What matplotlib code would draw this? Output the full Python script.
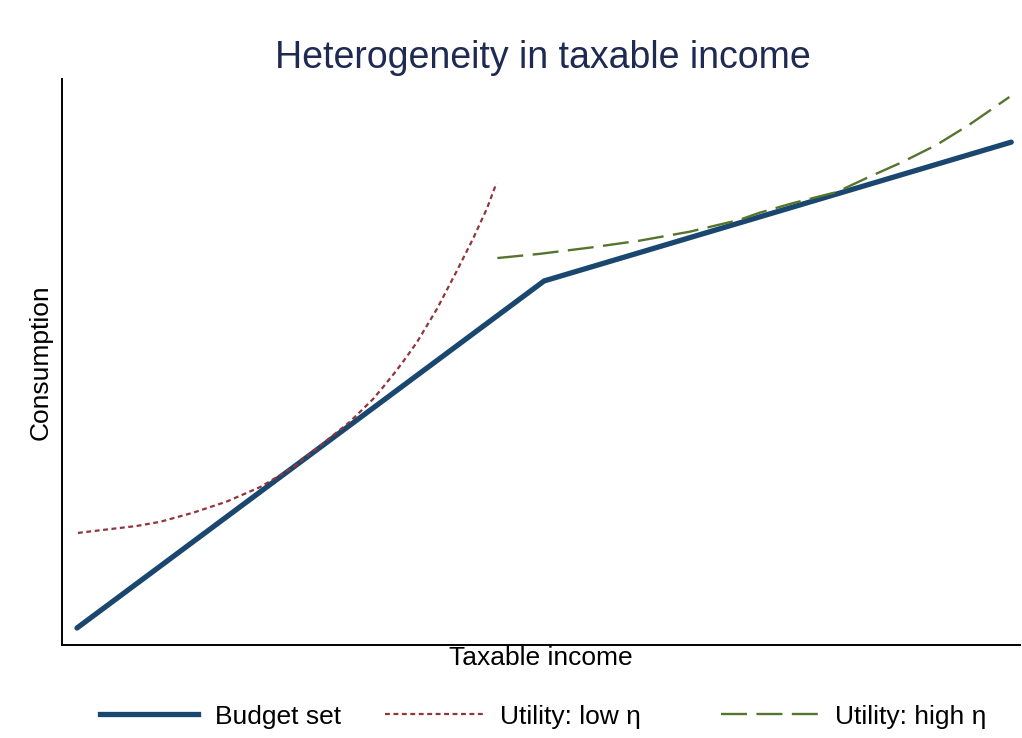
import numpy as np
import matplotlib
matplotlib.use("Agg")
import matplotlib.pyplot as plt
from matplotlib.lines import Line2D

plt.rcParams['font.family'] = ['Liberation Sans', 'DejaVu Sans']

# budget set (kinked)
budget_x = [0, 50, 100]
budget_y = [0, 50, 70]

# utility, low eta
low_x = [0.1, 3.85, 6.4, 8.9, 12.4, 16.0, 19.6, 23.1, 26.7, 29.2, 31.7, 32.7, 34.2, 35.3, 36.4, 38.5, 40.6, 42.4, 43.9, 44.9]
low_y = [13.7, 14.3, 14.7, 15.3, 16.6, 18.2, 20.3, 23.1, 27.0, 29.7, 33.0, 34.6, 37.1, 39.1, 41.2, 45.9, 51.3, 56.1, 60.5, 64.1]

# utility, high eta
high_x = [45.0, 49.5, 54.9, 60.2, 65.6, 70.9, 73.0, 76.6, 81.3, 84.8, 88.3, 92.0, 95.5, 99.8]
high_y = [53.3, 53.9, 54.8, 55.8, 57.1, 58.8, 59.8, 61.2, 62.8, 65.0, 67.1, 69.6, 72.5, 76.5]

navy = '#1a476f'
maroon = '#90353b'
green = '#55752f'

fig = plt.figure(figsize=(10.22, 7.38), dpi=100)
ax = fig.add_axes([0.0607, 0.126, 0.937, 0.767])

ax.plot(budget_x, budget_y, color=navy, lw=3.8, solid_capstyle='round', solid_joinstyle='miter', zorder=2)
ax.plot(low_x, low_y, color=maroon, lw=1.6, linestyle=(0, (2.2, 1.6)), zorder=3)
ax.plot(high_x, high_y, color=green, lw=1.7, linestyle=(0, (11, 4)), zorder=3)

ax.set_xlim(-1.6, 100.9)
ax.set_ylim(-2.45, 79.1)
ax.set_xticks([])
ax.set_yticks([])
for s in ['top', 'right']:
    ax.spines[s].set_visible(False)
for s in ['left', 'bottom']:
    ax.spines[s].set_linewidth(1.4)

ax.set_xlabel("Taxable income", fontsize=19, labelpad=1)
ax.set_ylabel("Consumption", fontsize=19, labelpad=7)
fig.text(0.531, 0.921, "Heterogeneity in taxable income", fontsize=27, color='#1e2a52',
         ha='center', va='center')

handles = [
    Line2D([], [], color=navy, lw=3.8),
    Line2D([], [], color=maroon, lw=1.6, linestyle=(0, (2.2, 1.6))),
    Line2D([], [], color=green, lw=1.7, linestyle=(0, (11, 4))),
]
labels = ["Budget set", "Utility: low η", "Utility: high η"]
xpos = [0.098, 0.377, 0.705]
for h, l, xp in zip(handles, labels, xpos):
    fig.legend([h], [l], loc='center left', bbox_to_anchor=(xp, 0.029), frameon=False,
               fontsize=19, handlelength=3.7, handletextpad=0.65, borderaxespad=0, borderpad=0)

fig.savefig("out.png", dpi=100)
